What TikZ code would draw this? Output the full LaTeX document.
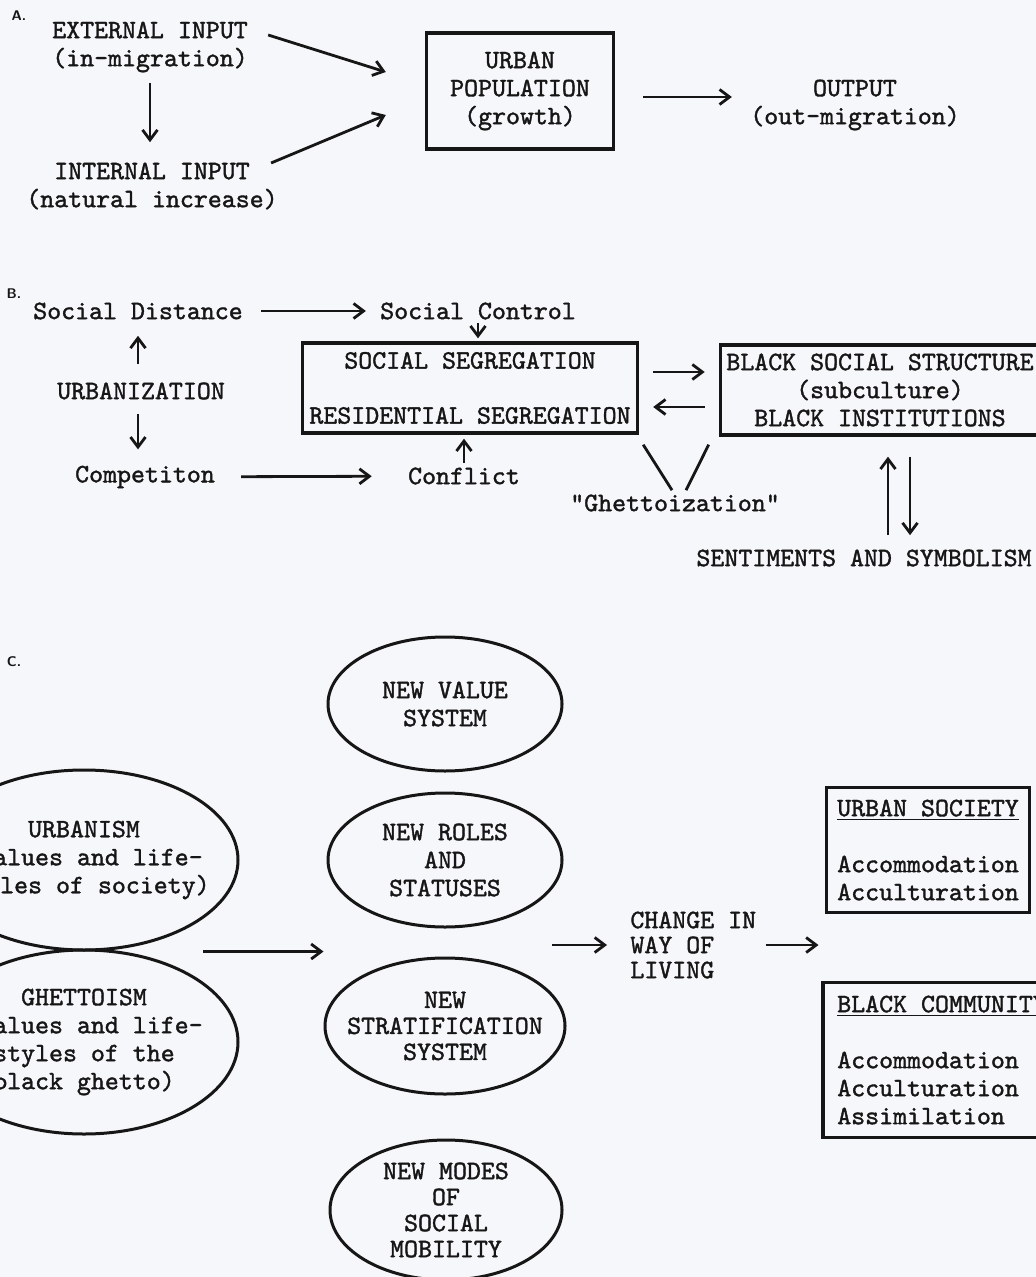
\documentclass[tikz,border=0pt]{standalone}
\usepackage{fontspec}
\usetikzlibrary{arrows.meta,shapes.geometric}

\newfontfamily\typewr{lmmono10-regular.otf}[FakeBold=1.4]

\definecolor{paper}{RGB}{246,247,250}
\definecolor{ink}{RGB}{22,22,22}

\tikzset{
  >={Straight Barb[length=5pt,width=7.5pt]},
  txt/.style={font=\typewr\fontsize{13.3}{14}\selectfont, text=ink, inner sep=0pt, align=center},
  tbox/.style={txt, draw=ink, line width=1.7pt, inner sep=3pt},
  oval/.style={txt, ellipse, draw=ink, line width=1.5pt, inner sep=-12pt},
  sec/.style={font=\sffamily\bfseries\fontsize{7}{8}\selectfont, text=ink, inner sep=0pt},
  link/.style={->, draw=ink, line width=1.4pt},
}

\begin{document}
\begin{tikzpicture}[x=0.5pt, y=-0.5pt]
\path[use as bounding box, fill=paper] (0,0) rectangle (1036,1277);
\clip (0,0) rectangle (1036,1277);

% --- A: inputs and output of the urban population ---
\node[sec] (labA) at (19,16) {A.};
\node[txt] (ext) at (150,47) {EXTERNAL INPUT\\(in-migration)};
\node[txt] (int) at (152,186) {INTERNAL INPUT\\(natural increase)};
\node[tbox, minimum width=93.5pt, minimum height=58pt] (pop) at (520,91) {URBAN\\POPULATION\\(growth)};
\node[txt] (out) at (855,105) {OUTPUT\\(out-migration)};

\draw[link, shorten <=5pt, shorten >=10pt] (ext.south) -- (ext.south |- int.north);
\draw[link] ([shift={(20,-12)}]ext.east) -- ([shift={(-39,-19)}]pop.west);
\draw[link] ([shift={(-7,-23)}]int.east) -- ([shift={(-39,24)}]pop.west);
\draw[link, shorten <=14pt, shorten >=9pt] ([yshift=-3pt]pop.east) -- ([yshift=-3pt]pop.east -| out.west);

% --- B: urbanization and segregation ---
\node[sec] (labB) at (14,294) {B.};
\node[txt] (sdist) at (138,311) {Social Distance};
\node[txt] (sctrl) at (478,311) {Social Control};
\node[txt] (urb) at (141,391) {URBANIZATION};
\node[txt] (comp) at (145,477) {Competiton};
\node[txt] (confl) at (464,476) {Conflict};
\node[tbox, minimum width=167.5pt, minimum height=45pt] (seg) at (470,388)
  {SOCIAL SEGREGATION\\[13.5pt]RESIDENTIAL SEGREGATION};
\node[tbox, minimum width=158pt, minimum height=45pt] (bss) at (880,390)
  {BLACK SOCIAL STRUCTURE\\(subculture)\\BLACK INSTITUTIONS};
\node[txt] (ghetto) at (675,503) {"Ghettoization"};
\node[txt] (sent) at (864,558) {SENTIMENTS AND SYMBOLISM};

\draw[link, shorten <=9pt, shorten >=7pt] (sdist) -- (sctrl);
\draw[link, shorten <=1.5pt, shorten >=1.5pt] (sctrl.south) -- (sctrl.south |- seg.north);
\draw[link, shorten <=9pt, shorten >=8pt] (sdist.south |- urb.north) -- (sdist.south);
\draw[link, shorten <=7pt, shorten >=8pt] (sdist.south |- urb.south) -- (sdist.south |- comp.north);
\draw[link, shorten <=13pt, shorten >=18pt] (comp) -- (confl);
\draw[link, shorten <=2pt, shorten >=2pt] (confl.north) -- (confl.north |- seg.south);

% arrows between the two boxes
\draw[link, shorten <=7pt, shorten >=7pt] ([yshift=8pt]seg.east) -- ([yshift=8pt]seg.east -| bss.west);
\draw[link, shorten <=7pt, shorten >=7pt] ([yshift=-8.5pt]bss.west) -- ([yshift=-8.5pt]bss.west -| seg.east);

% the V over "Ghettoization"
\draw[draw=ink, line width=1.4pt] ([shift={(4,10)}]seg.south east) -- ([shift={(-3,-4)}]ghetto.north);
\draw[draw=ink, line width=1.4pt] ([shift={(-10,8)}]bss.south west) -- ([shift={(11,-4)}]ghetto.north);

\draw[link, shorten <=7pt, shorten >=10pt] ([xshift=12pt]sent.north) -- ([xshift=12pt]sent.north |- bss.south);
\draw[link, shorten <=10pt, shorten >=7pt] ([xshift=23pt]sent.north |- bss.south) -- ([xshift=23pt]sent.north);

% --- C: change in way of living ---
\node[sec] (labC) at (14,662) {C.};
\node[oval, minimum width=154pt, minimum height=90pt] (urbanism) at (84,860)
  {URBANISM\\(values and life-\\styles of society)};
\node[oval, minimum width=154pt, minimum height=92pt] (ghettoism) at (84,1042)
  {GHETTOISM\\(values and life-\\styles of the\\black ghetto)};

\node[oval, minimum width=117pt, minimum height=67pt] (value) at (445,704) {NEW VALUE\\SYSTEM};
\node[oval, minimum width=117pt, minimum height=67pt] (roles) at (445,860) {NEW ROLES\\AND\\STATUSES};
\node[oval, minimum width=120pt, minimum height=68pt, font=\typewr\fontsize{13.3}{13}\selectfont]
  (strat) at (445,1026) {NEW\\STRATIFICATION\\SYSTEM};
\node[oval, minimum width=116pt, minimum height=70pt, font=\typewr\fontsize{13.3}{13}\selectfont]
  (modes) at (446,1210) {NEW MODES\\OF\\SOCIAL\\MOBILITY};

\node[txt, align=left, anchor=west, font=\typewr\fontsize{13.3}{12.5}\selectfont]
  (change) at (630,945) {CHANGE IN\\WAY OF\\LIVING};

\node[tbox, align=left, minimum width=101.5pt, minimum height=62.5pt] (society) at (928,850)
  {\underline{URBAN SOCIETY}\\[14pt]Accommodation\\Acculturation};
\node[tbox, align=left, minimum width=119pt, minimum height=77.5pt] (community) at (942,1060)
  {\underline{BLACK COMMUNITY}\\[14pt]Accommodation\\Acculturation\\Assimilation};

\draw[link] ([xshift=59.5pt]urbanism.south) -- (urbanism.south -| strat.west);
\draw[link, shorten >=11.5pt] ([xshift=-39pt]change.west) -- (change.west);
\draw[link] ([xshift=4.5pt]change.east) -- ([xshift=31pt]change.east);

\end{tikzpicture}
\end{document}
